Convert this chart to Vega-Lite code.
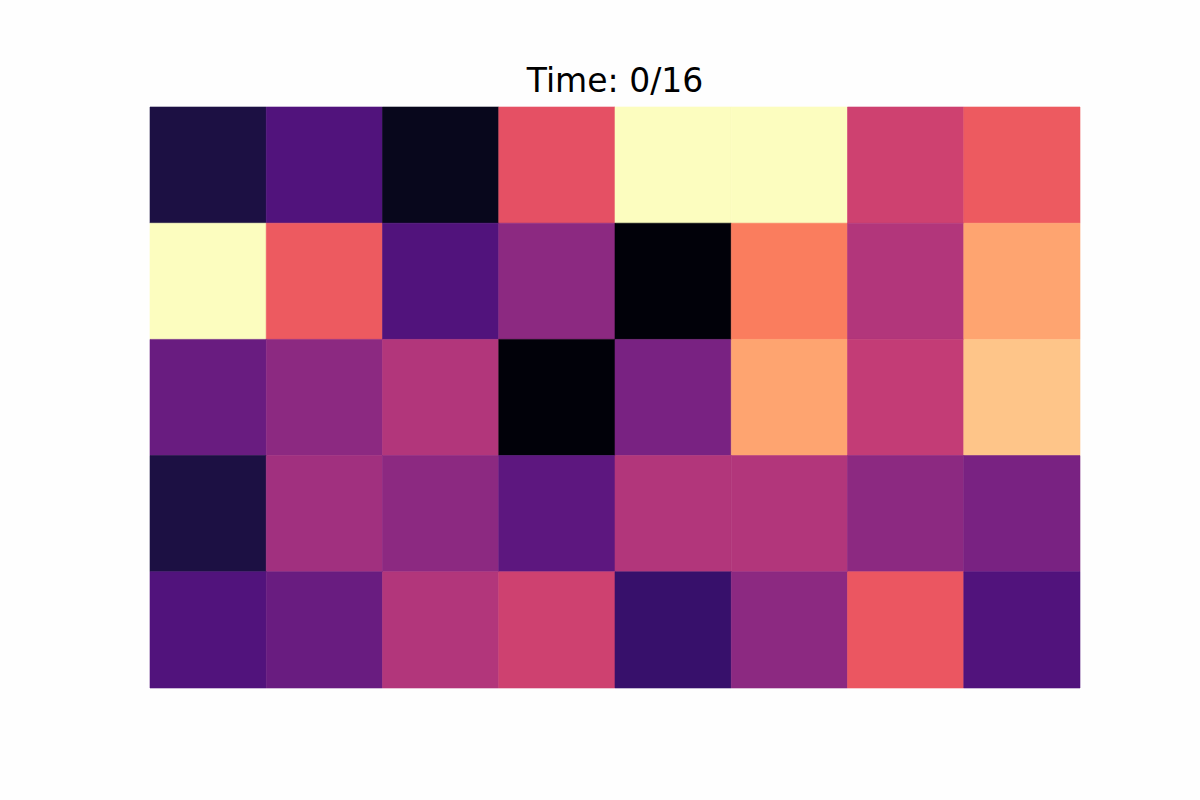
{
  "$schema": "https://vega.github.io/schema/vega-lite/v6.json",
  "width": 930,
  "height": 581,
  "autosize": {"type": "none"},
  "padding": {"left": 150, "top": 107, "right": 120, "bottom": 112},
  "background": "#fefefe",
  "title": {"text": "Time: 0/16", "font": "DejaVu Sans", "fontSize": 33, "fontWeight": "normal", "color": "#000000", "baseline": "alphabetic", "offset": -18, "anchor": "middle"},
  "config": {"view": {"stroke": null}},
  "data": {"values": [
    {"col": 0, "row": 0, "v": 0.12}, {"col": 1, "row": 0, "v": 0.25}, {"col": 2, "row": 0, "v": 0.05}, {"col": 3, "row": 0, "v": 0.62},
    {"col": 4, "row": 0, "v": 1.0}, {"col": 5, "row": 0, "v": 1.0}, {"col": 6, "row": 0, "v": 0.56}, {"col": 7, "row": 0, "v": 0.65},
    {"col": 0, "row": 1, "v": 1.0}, {"col": 1, "row": 1, "v": 0.65}, {"col": 2, "row": 1, "v": 0.25}, {"col": 3, "row": 1, "v": 0.4},
    {"col": 4, "row": 1, "v": 0.01}, {"col": 5, "row": 1, "v": 0.73}, {"col": 6, "row": 1, "v": 0.49}, {"col": 7, "row": 1, "v": 0.81},
    {"col": 0, "row": 2, "v": 0.31}, {"col": 1, "row": 2, "v": 0.4}, {"col": 2, "row": 2, "v": 0.49}, {"col": 3, "row": 2, "v": 0.01},
    {"col": 4, "row": 2, "v": 0.35}, {"col": 5, "row": 2, "v": 0.81}, {"col": 6, "row": 2, "v": 0.53}, {"col": 7, "row": 2, "v": 0.88},
    {"col": 0, "row": 3, "v": 0.12}, {"col": 1, "row": 3, "v": 0.45}, {"col": 2, "row": 3, "v": 0.4}, {"col": 3, "row": 3, "v": 0.28},
    {"col": 4, "row": 3, "v": 0.49}, {"col": 5, "row": 3, "v": 0.49}, {"col": 6, "row": 3, "v": 0.4}, {"col": 7, "row": 3, "v": 0.35},
    {"col": 0, "row": 4, "v": 0.25}, {"col": 1, "row": 4, "v": 0.31}, {"col": 2, "row": 4, "v": 0.49}, {"col": 3, "row": 4, "v": 0.56},
    {"col": 4, "row": 4, "v": 0.19}, {"col": 5, "row": 4, "v": 0.4}, {"col": 6, "row": 4, "v": 0.64}, {"col": 7, "row": 4, "v": 0.25}
  ]},
  "mark": {"type": "rect", "strokeWidth": 0.6},
  "encoding": {
    "x": {"field": "col", "type": "ordinal", "axis": null, "scale": {"paddingInner": 0, "paddingOuter": 0}},
    "y": {"field": "row", "type": "ordinal", "axis": null, "scale": {"paddingInner": 0, "paddingOuter": 0}},
    "color": {"field": "v", "type": "quantitative", "legend": null, "scale": {"scheme": "magma", "domain": [0, 1]}},
    "stroke": {"field": "v", "type": "quantitative", "legend": null, "scale": {"scheme": "magma", "domain": [0, 1]}}
  }
}
